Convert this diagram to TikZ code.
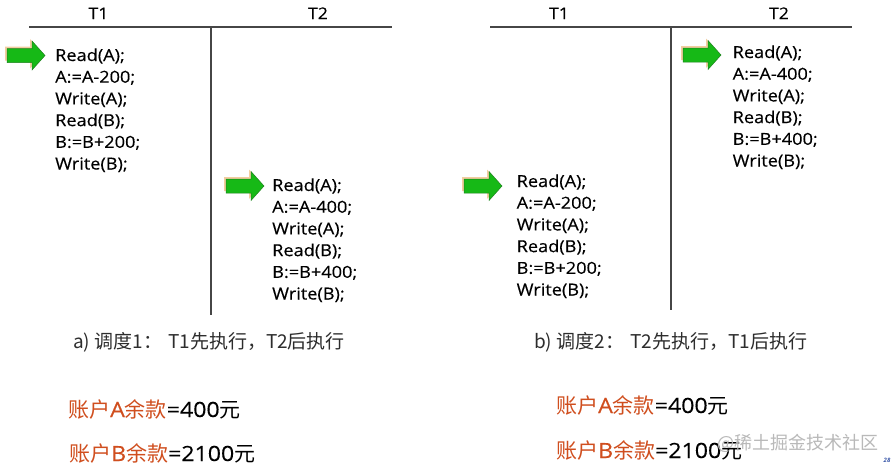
\documentclass[tikz,border=0pt]{standalone}
\usepackage{fontspec}
\setmainfont{Open Sans}
\newfontfamily\lat[FakeStretch=1.1,FakeBold=0.3]{Open Sans}
\newfontfamily\cjk{Noto Sans CJK SC}
\definecolor{linegray}{RGB}{70,70,70}
\definecolor{arrowgreen}{RGB}{22,185,22}
\definecolor{arrowedge}{RGB}{30,130,30}
\definecolor{shadoworange}{RGB}{242,205,160}
\definecolor{accred}{RGB}{208,78,30}
\definecolor{captiongray}{RGB}{45,45,45}
\definecolor{markblue}{RGB}{60,90,170}
\newcommand\codeblock[4]{%
  \foreach \ln [count=\i] in {#4} {
    \node[code] (#1-\i) at (#2, {#3+(\i-1)*21.7}) {\ln};
  }}
\begin{document}
\begin{tikzpicture}[x=1pt,y=-1pt,
  rule/.style={draw=linegray, line width=2pt},
  head/.style={font=\lat\fontsize{16}{18}\selectfont, anchor=base, inner sep=0pt},
  code/.style={font=\lat\fontsize{16.5}{20}\selectfont, anchor=base west, inner sep=0pt},
  caption/.style={font=\cjk\fontsize{19}{22}\selectfont, text=captiongray, anchor=base west, inner sep=0pt},
  balance/.style={font=\fontsize{21}{24}\selectfont, anchor=base west, inner sep=0pt},
  watermark/.style={font=\cjk\fontsize{18}{20}\selectfont, text=gray!55, anchor=west, inner sep=0pt},
  pagemark/.style={font=\bfseries\itshape\fontsize{6}{7}\selectfont, text=markblue, inner sep=0pt},
  greenarr/.pic={
    \fill[shadoworange] (-21,-9) -- (4,-9) -- (4,-16.5) -- (17,-1.5) -- (4,13) -- (4,5) -- (-21,5) -- cycle;
    \draw[arrowedge, fill=arrowgreen, line width=0.5pt]
      (-19,-7) -- (6,-7) -- (6,-14.5) -- (19,0) -- (6,14.5) -- (6,7) -- (-19,7) -- cycle;
  }
]
\useasboundingbox (0,0) rectangle (892,469);
\fill[white] (0,0) rectangle (892,469);

% ---- left panel ----
\coordinate (L-hl) at (29,27);
\coordinate (L-hr) at (392,27);
\coordinate (L-vt) at (211,27);
\coordinate (L-vb) at (211,315);
\draw[rule] (L-hl) -- (L-hr);
\draw[rule] (L-vt) -- (L-vb);
\node[head] (L-T1) at (98.5,19) {T1};
\node[head] (L-T2) at (318,19) {T2};

\pic (L-ga1) at (26,55.5) {greenarr};
\codeblock{L1}{55}{61}{Read(A);,A:=A-200;,Write(A);,Read(B);,B:=B+200;,Write(B);}

\pic (L-ga2) at (245,186) {greenarr};
\codeblock{L2}{272}{191}{Read(A);,A:=A-400;,Write(A);,Read(B);,B:=B+400;,Write(B);}

\node[caption] (L-cap) at (73,348) {a) 调度1：\hspace{6pt}T1先执行，T2后执行};
\node[balance] (L-balA) at (68,417) {\textcolor{accred}{{\cjk 账户}{\lat A}{\cjk 余款}}{\lat =400}{\cjk 元}};
\node[balance] (L-balB) at (69,461) {\textcolor{accred}{{\cjk 账户}{\lat B}{\cjk 余款}}{\lat =2100}{\cjk 元}};

% ---- right panel ----
\coordinate (R-hl) at (490,27);
\coordinate (R-hr) at (852,27);
\coordinate (R-vt) at (671,27);
\coordinate (R-vb) at (671,310);
\draw[rule] (R-hl) -- (R-hr);
\draw[rule] (R-vt) -- (R-vb);
\node[head] (R-T1) at (559,19) {T1};
\node[head] (R-T2) at (779,19) {T2};

\pic (R-ga1) at (702,55) {greenarr};
\codeblock{R1}{732.5}{58}{Read(A);,A:=A-400;,Write(A);,Read(B);,B:=B+400;,Write(B);}

\pic (R-ga2) at (483,186) {greenarr};
\codeblock{R2}{516.5}{187}{Read(A);,A:=A-200;,Write(A);,Read(B);,B:=B+200;,Write(B);}

\node[caption] (R-cap) at (534,348) {b) 调度2：\hspace{6pt}T2先执行，T1后执行};
\node[balance] (R-balA) at (556,413) {\textcolor{accred}{{\cjk 账户}{\lat A}{\cjk 余款}}{\lat =400}{\cjk 元}};
\node[balance] (R-balB) at (556,458) {\textcolor{accred}{{\cjk 账户}{\lat B}{\cjk 余款}}{\lat =2100}{\cjk 元}};

\node[watermark] (wm) at (717,443) {@稀土掘金技术社区};
\node[pagemark] (pg) at (887,460) {28};
\end{tikzpicture}
\end{document}
